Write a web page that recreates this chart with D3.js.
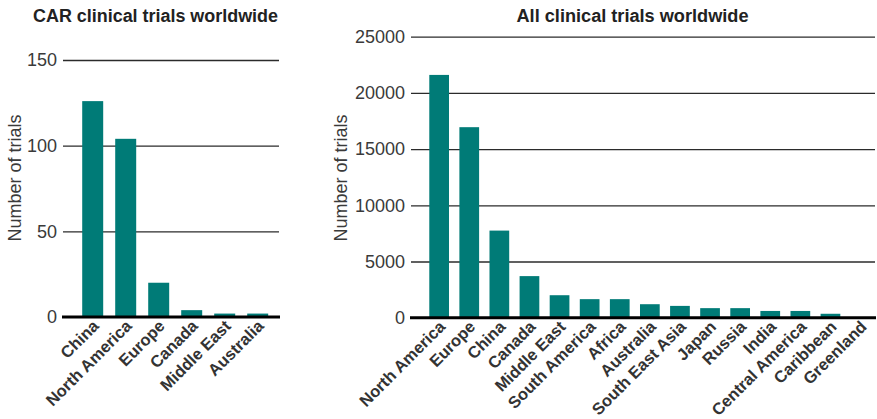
<!DOCTYPE html>
<html><head><meta charset="utf-8">
<script src="https://cdn.jsdelivr.net/npm/d3@7"></script>
<style>
html,body{margin:0;padding:0;background:#fff;}
svg{display:block;}
text{font-family:"Liberation Sans",Arial,sans-serif;}
</style></head>
<body>
<svg id="chart" width="877" height="419"></svg>
<script>
// ---- data ----
const carCategories = ["China","North America","Europe","Canada","Middle East","Australia"];
const carValues = [126, 104, 20, 4, 2, 2];
const carTicks = [0, 50, 100, 150];

const allCategories = ["North America","Europe","China","Canada","Middle East","South America","Africa","Australia","South East Asia","Japan","Russia","India","Central America","Caribbean","Greenland"];
const allValues = [21600, 16950, 7750, 3700, 2000, 1650, 1650, 1200, 1050, 850, 850, 600, 600, 350, 10];
const allTicks = [0, 5000, 10000, 15000, 20000, 25000];

const titles = ["CAR clinical trials worldwide", "All clinical trials worldwide"];
const yTitle = "Number of trials";

const svg = d3.select("#chart");
const teal = "#007b77";

function panel(cfg){
  const g = svg.append("g");
  const x = d3.scaleBand().domain(cfg.cats).range(cfg.bandRange).paddingInner(cfg.pad).paddingOuter(cfg.pad/2);
  const y = d3.scaleLinear().domain(cfg.domain).range(cfg.yRange);

  // gridlines + tick labels via axis
  const axis = d3.axisLeft(y).tickValues(cfg.ticks).tickSize(-(cfg.gridX[1]-cfg.gridX[0])).tickPadding(6).tickFormat(d3.format("d"));
  const ag = g.append("g").attr("transform", `translate(${cfg.gridX[0]},0)`).call(axis);
  ag.select(".domain").remove();
  ag.selectAll(".tick line").attr("stroke", "#2b2b2b").attr("stroke-width", 1.3);
  ag.selectAll(".tick text").attr("font-size", 18).attr("fill", "#3a3a3a").attr("x", -6).style("font-family","'Liberation Sans',Arial,sans-serif");
  ag.selectAll(".tick").filter(d => d === 0).select("line").remove();

  // bars
  g.selectAll("rect.bar").data(cfg.vals).join("rect")
    .attr("class","bar")
    .attr("x", (d,i) => x(cfg.cats[i]))
    .attr("width", x.bandwidth())
    .attr("y", d => y(d))
    .attr("height", d => y(0) - y(d))
    .attr("fill", teal);

  // baseline
  g.append("line").attr("x1", cfg.gridX[0]-1).attr("x2", cfg.gridX[1]+1)
    .attr("y1", y(0)).attr("y2", y(0)).attr("stroke", "#000").attr("stroke-width", 3);

  // x labels
  g.selectAll("text.xl").data(cfg.cats).join("text")
    .attr("class","xl")
    .attr("transform", d => `translate(${x(d)+x.bandwidth()/2+3},${y(0)+6}) rotate(-45)`)
    .attr("text-anchor","end").attr("dy","0.35em")
    .attr("font-size", 16.5).attr("font-weight","bold").attr("fill","#333")
    .text(d => d);

  // y title
  g.append("text").attr("transform", `translate(${cfg.yTitleX},178) rotate(-90)`)
    .attr("text-anchor","middle").attr("dy","0.35em")
    .attr("font-size", 18).attr("fill","#3a3a3a").text(yTitle);

  // title
  g.append("text").attr("x", cfg.titleX).attr("y", 21.5)
    .attr("text-anchor","middle").attr("font-size", 18).attr("font-weight","bold")
    .attr("fill","#222").attr("textLength", cfg.titleW).attr("lengthAdjust","spacingAndGlyphs")
    .text(cfg.title);
}

panel({cats: carCategories, vals: carValues, ticks: carTicks, domain:[0,150], yRange:[317,60],
  bandRange:[76.2, 274.2], pad:0.364, gridX:[63,279], yTitleX:15, titleX:155.5, titleW:245, title:titles[0]});

panel({cats: allCategories, vals: allValues, ticks: allTicks, domain:[0,25000], yRange:[317.7,36.7],
  bandRange:[424.1, 875.6], pad:0.345, gridX:[411,875], yTitleX:341, titleX:632.5, titleW:232, title:titles[1]});
</script>
</body></html>
